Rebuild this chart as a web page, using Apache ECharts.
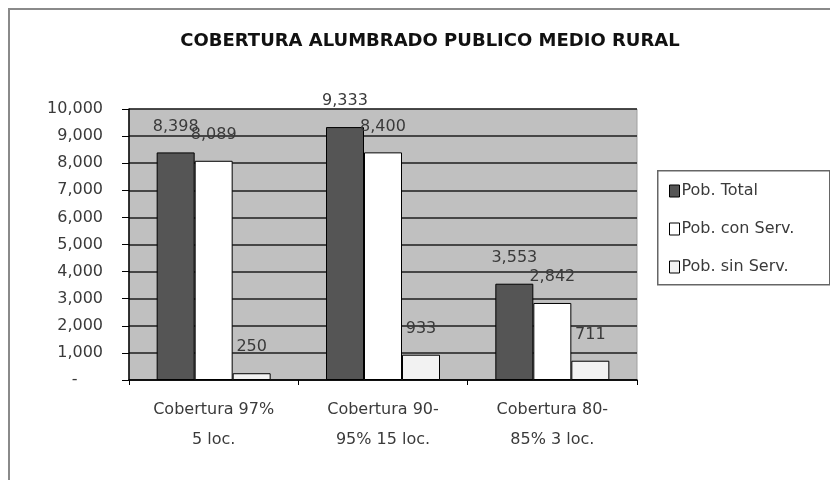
<!DOCTYPE html>
<html>
<head>
<meta charset="utf-8">
<script src="https://cdn.jsdelivr.net/npm/echarts@6/dist/echarts.min.js"></script>
<style>
  html, body { margin: 0; padding: 0; background: #fff; }
  #chart { width: 830px; height: 480px; }
</style>
</head>
<body>
<div id="chart"></div>
<script>
const categories = ["Cobertura 97%\n5 loc.", "Cobertura 90-\n95% 15 loc.", "Cobertura 80-\n85% 3 loc."];
const seriesNames = ["Pob. Total", "Pob. con Serv.", "Pob. sin Serv."];
const pobTotal = [8398, 9333, 3553];
const pobConServ = [8089, 8400, 2842];
const pobSinServ = [250, 933, 711];

const FONT = "DejaVu Sans";
const TEXT = "#3a3a3a";

function barSeries(name, data, color) {
  return {
    type: "bar",
    name: name,
    data: data,
    barWidth: 38,
    barGap: "0%",
    itemStyle: { color: color, borderColor: "#000", borderWidth: 1 },
    label: {
      show: true,
      position: "top",
      distance: 18,
      fontFamily: FONT,
      fontSize: 16,
      color: TEXT,
      formatter: (p) => p.value.toLocaleString("en-US"),
    },
    emphasis: { disabled: true },
  };
}

const chart = echarts.init(document.getElementById("chart"));
chart.setOption({
  animation: false,
  backgroundColor: "#fff",
  title: {
    text: "COBERTURA ALUMBRADO PUBLICO MEDIO RURAL",
    left: 425,
    textAlign: "center",
    top: 27,
    textStyle: { fontFamily: FONT, fontSize: 18, fontWeight: "bold", color: "#111" },
  },
  graphic: [
    // outer chart border (runs past the right and bottom edges)
    { type: "rect", left: 8, top: 8, z: -10, shape: { width: 900, height: 600 },
      style: { fill: "#fff", stroke: "#8a8a8a", lineWidth: 2 } },
    // legend box
    { type: "rect", left: 657, top: 170, z: 1, shape: { width: 172, height: 114 },
      style: { fill: "#fff", stroke: "#666", lineWidth: 1.5 } },
  ],
  legend: {
    orient: "vertical",
    left: 664,
    top: 178,
    z: 5,
    itemWidth: 10,
    itemHeight: 12,
    itemGap: 22,
    icon: "rect",
    itemStyle: { borderColor: "#000", borderWidth: 1 },
    textStyle: { fontFamily: FONT, fontSize: 16, color: TEXT, padding: [0, 0, 0, -3] },
    data: seriesNames,
  },
  grid: {
    left: 129,
    right: 193,
    top: 109,
    bottom: 100,
    show: true,
    backgroundColor: "#c0c0c0",
    borderColor: "#a0a0a0",
    borderWidth: 1,
  },
  xAxis: {
    type: "category",
    data: categories,
    axisLine: { lineStyle: { color: "#000", width: 1.5 } },
    axisTick: { show: true, length: 5, lineStyle: { color: "#000" } },
    axisLabel: {
      fontFamily: FONT,
      fontSize: 16,
      color: TEXT,
      lineHeight: 30,
      margin: 15,
      interval: 0,
    },
  },
  yAxis: {
    type: "value",
    min: 0,
    max: 10000,
    interval: 1000,
    axisLine: { show: true, lineStyle: { color: "#000", width: 1.5 } },
    axisTick: { show: true, length: 7, lineStyle: { color: "#000" } },
    axisLabel: {
      fontFamily: FONT,
      fontSize: 16,
      color: TEXT,
      margin: 26,
      formatter: (v) => (v === 0 ? "-     " : v.toLocaleString("en-US")),
    },
    splitLine: { show: true, lineStyle: { color: "#1e1e1e", width: 1.5 } },
  },
  series: [
    barSeries(seriesNames[0], pobTotal, "#555555"),
    barSeries(seriesNames[1], pobConServ, "#ffffff"),
    barSeries(seriesNames[2], pobSinServ, "#f2f2f2"),
  ],
});
</script>
</body>
</html>
